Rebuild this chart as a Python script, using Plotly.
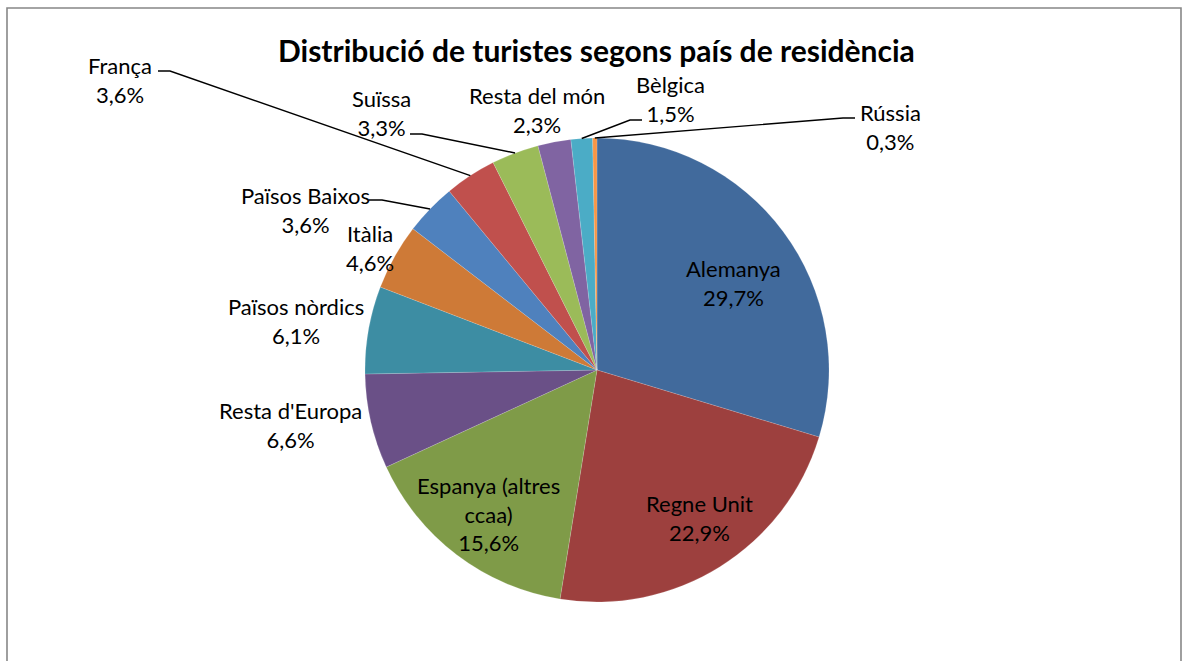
import math
import plotly.graph_objects as go

# ---------------- data ----------------
categories = ["Alemanya", "Regne Unit", "Espanya (altres ccaa)", "Resta d'Europa",
              "Països nòrdics", "Itàlia", "Països Baixos", "França", "Suïssa",
              "Resta del món", "Bèlgica", "Rússia"]
values = [29.7, 22.9, 15.6, 6.6, 6.1, 4.6, 3.6, 3.6, 3.3, 2.3, 1.5, 0.3]
title_text = "Distribució de turistes segons país de residència"

# ---------------- styling / layout ----------------
colors = ["#416A9C", "#9D403E", "#7F9B48", "#6A5087", "#3D8DA3", "#CE7A37",
          "#4F81BD", "#C0504D", "#9BBB59", "#8064A2", "#4BACC6", "#F79646"]
display_names = {"Espanya (altres ccaa)": "Espanya (altres<br>ccaa)"}

W, H = 1186, 661
CX, CY, R = 597, 370, 232  # pie centre / radius in pixels

# label centre positions (pixels)
label_pos = {
    "Alemanya": (733, 283), "Regne Unit": (699, 518),
    "Espanya (altres ccaa)": (488, 514), "Resta d'Europa": (290, 425),
    "Països nòrdics": (296, 321), "Itàlia": (370, 248),
    "Països Baixos": (305, 210), "França": (120, 80), "Suïssa": (381, 113),
    "Resta del món": (537, 110), "Bèlgica": (670, 99), "Rússia": (890, 127),
}
# leader line start + elbow (pixels); end is computed on the slice arc
leaders = {
    "França": [(158, 71), (170, 71)],
    "Suïssa": [(410, 134), (422, 134)],
    "Bèlgica": [(642, 120), (630, 120)],
    "Rússia": [(855, 118), (843, 118)],
    "Països Baixos": [(369, 200), (382, 200)],
}

FONT = "Lato, Calibri, Carlito, sans-serif"


def px(x):
    return x / W


def py(y):
    return 1 - y / H


fig = go.Figure(go.Pie(
    labels=categories, values=values, sort=False, direction="clockwise",
    rotation=0, textinfo="none", hoverinfo="label+value",
    marker=dict(colors=colors, line=dict(color="rgba(255,255,255,0.3)", width=0.5)),
    domain=dict(x=[px(CX - R), px(CX + R)], y=[py(CY + R), py(CY - R)]),
    showlegend=False,
))

total = sum(values)
annotations = []
shapes = []
cum = 0.0
for name, v in zip(categories, values):
    theta = 2 * math.pi * (cum + v / 2) / total
    cum += v
    ex, ey = CX + R * math.sin(theta), CY - R * math.cos(theta)
    lx, lyy = label_pos[name]
    txt = f"{display_names.get(name, name)}<br>{v:.1f}%".replace(".", ",")
    annotations.append(dict(
        x=px(lx), y=py(lyy), xref="paper", yref="paper", text=txt,
        showarrow=False, xanchor="center", yanchor="middle", align="center",
        font=dict(family=FONT, size=22, color="#000000"),
    ))
    if name in leaders:
        (x0, y0), (x1, y1) = leaders[name]
        path = (f"M {px(x0)},{py(y0)} L {px(x1)},{py(y1)} "
                f"L {px(ex)},{py(ey)}")
        shapes.append(dict(type="path", path=path, xref="paper", yref="paper",
                           line=dict(color="#000000", width=1.4)))

annotations.append(dict(
    x=px(596), y=py(50), xref="paper", yref="paper",
    text=f"<b>{title_text}</b>", showarrow=False,
    xanchor="center", yanchor="middle",
    font=dict(family=FONT, size=30, color="#000000"),
))

shapes.append(dict(type="rect", xref="paper", yref="paper",
                   x0=px(7), y0=py(8), x1=px(1181), y1=py(700),
                   line=dict(color="#878787", width=1.6)))

fig.update_layout(
    width=W, height=H, margin=dict(l=0, r=0, t=0, b=0),
    paper_bgcolor="white", plot_bgcolor="white",
    annotations=annotations, shapes=shapes,
)

fig.write_html(
    "out.html",
    config={"displayModeBar": False},
    post_script="document.body.style.margin='0';document.body.style.overflow='hidden';",
)
